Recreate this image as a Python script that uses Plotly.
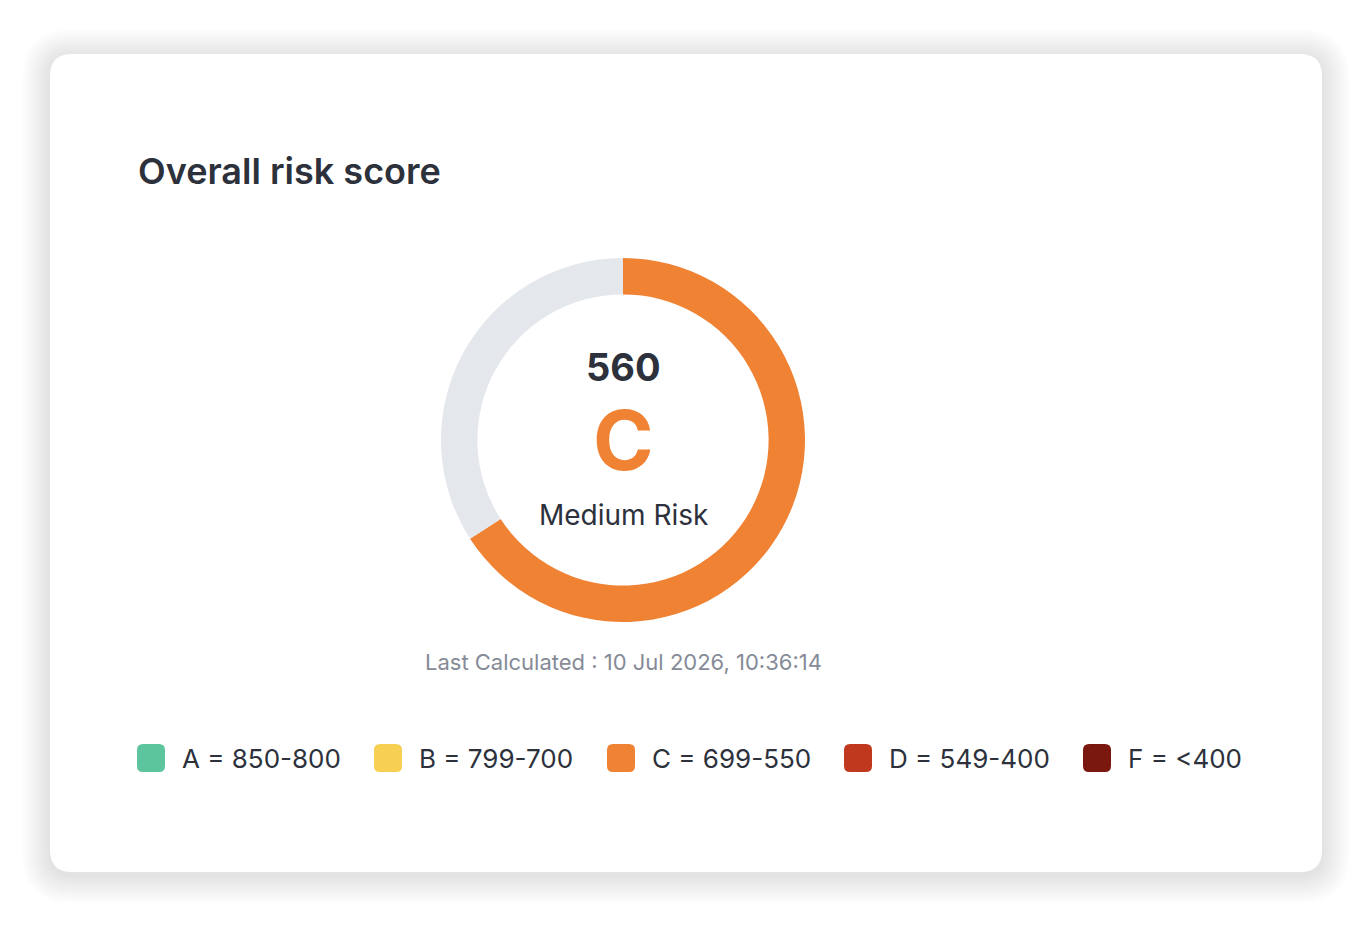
import plotly.graph_objects as go

# ---- data ----
score = 560
max_score = 850
grade = "C"
risk_label = "Medium Risk"
last_calculated = "10 Jul 2026, 10:36:14"
grades = ["A", "B", "C", "D", "F"]
ranges = ["850-800", "799-700", "699-550", "549-400", "<400"]
grade_colors = ["#5CC59E", "#F7CF52", "#EF8233", "#C0391F", "#7A1810"]

# ---- layout constants (pixels) ----
W, H = 1370, 926
card = (50, 54, 1322, 872)
card_r = 22
cx, cy, R = 623, 440, 182
legend_sq_x = [151, 388, 621, 858, 1097]
legend_y = 758
sq_half = 14
text_dx = 29

ORANGE = grade_colors[grades.index(grade)]
DARK = "#2C313C"
FONT = "Inter"


def rrect(x0, y0, x1, y1, r):
    return (f"M{x0+r},{y0} L{x1-r},{y0} Q{x1},{y0} {x1},{y0+r} L{x1},{y1-r} "
            f"Q{x1},{y1} {x1-r},{y1} L{x0+r},{y1} Q{x0},{y1} {x0},{y1-r} "
            f"L{x0},{y0+r} Q{x0},{y0} {x0+r},{y0} Z")


fig = go.Figure()

shapes = []
# shadow
N = 14
for i in range(N, 0, -1):
    e = i * 2
    shapes.append(dict(type="path", xref="x", yref="y", layer="below",
                       path=rrect(card[0] - e, card[1] - e + 3, card[2] + e, card[3] + e + 3, card_r + e),
                       fillcolor="rgba(0,0,0,0.007)", line=dict(width=0)))
# card
shapes.append(dict(type="path", xref="x", yref="y", layer="below",
                   path=rrect(*card, card_r), fillcolor="white", line=dict(width=0)))

# legend squares (rounded)
for x, c in zip(legend_sq_x, grade_colors):
    shapes.append(dict(type="path", xref="x", yref="y", layer="above",
                       path=rrect(x - sq_half, legend_y - sq_half, x + sq_half, legend_y + sq_half, 6),
                       fillcolor=c, line=dict(width=0)))

# donut
fig.add_trace(go.Pie(
    values=[score, max_score - score],
    marker=dict(colors=[ORANGE, "#E4E7EB"], line=dict(width=0)),
    hole=0.8, sort=False, direction="clockwise", rotation=0,
    textinfo="none", hoverinfo="skip", showlegend=False,
    domain=dict(x=[(cx - R) / W, (cx + R) / W], y=[1 - (cy + R) / H, 1 - (cy - R) / H]),
))

# invisible anchor trace for the pixel axes
fig.add_trace(go.Scatter(x=legend_sq_x, y=[legend_y] * len(grades), mode="markers",
                         marker=dict(size=1, opacity=0), hoverinfo="skip", showlegend=False))

annotations = [
    dict(text="Overall risk score", x=136, y=171, xanchor="left", yanchor="middle",
         font=dict(family=FONT, size=36, color=DARK, weight=600)),
    dict(text=str(score), x=cx, y=367, xanchor="center", yanchor="middle",
         font=dict(family=FONT, size=38, color=DARK, weight=700)),
    dict(text=grade, x=cx, y=440, xanchor="center", yanchor="middle",
         font=dict(family=FONT, size=82, color=ORANGE, weight=700)),
    dict(text=risk_label, x=cx, y=515, xanchor="center", yanchor="middle",
         font=dict(family=FONT, size=28, color=DARK)),
    dict(text=f"Last Calculated : {last_calculated}", x=cx, y=662, xanchor="center", yanchor="middle",
         font=dict(family=FONT, size=22, color="#858B97")),
]
for g, r, x in zip(grades, ranges, legend_sq_x):
    annotations.append(dict(text=f"{g} = {r}", x=x + text_dx, y=legend_y, xanchor="left", yanchor="middle",
                            font=dict(family=FONT, size=26, color=DARK)))
for a in annotations:
    a.update(xref="x", yref="y", showarrow=False)

fig.update_layout(
    width=W, height=H, margin=dict(l=0, r=0, t=0, b=0),
    paper_bgcolor="white", plot_bgcolor="rgba(0,0,0,0)",
    xaxis=dict(range=[0, W], visible=False, fixedrange=True, domain=[0, 1]),
    yaxis=dict(range=[H, 0], visible=False, fixedrange=True, domain=[0, 1]),
    shapes=shapes, annotations=annotations,
)

fig.write_html("out.html", config={"displayModeBar": False})
